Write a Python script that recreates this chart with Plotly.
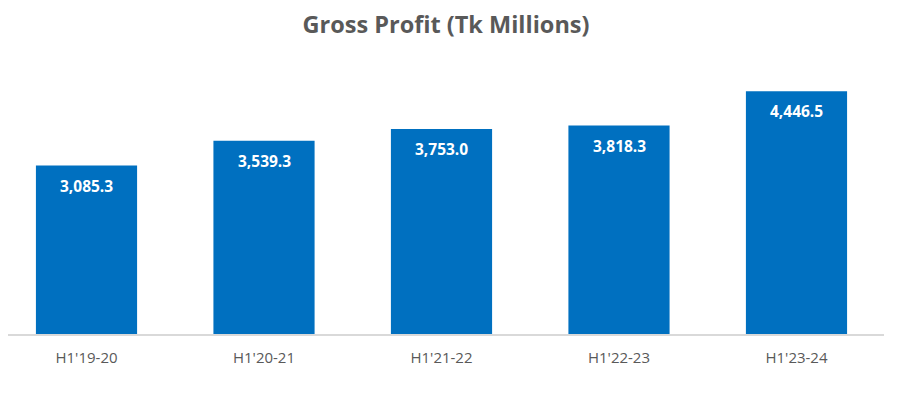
import plotly.graph_objects as go

categories = ["H1'19-20", "H1'20-21", "H1'21-22", "H1'22-23", "H1'23-24"]
values = [3085.3, 3539.3, 3753.0, 3818.3, 4446.5]
labels = [f"{v:,.1f}" for v in values]

FONT = "Open Sans, Noto Sans, sans-serif"

fig = go.Figure()
fig.add_trace(go.Bar(
    x=categories, y=values,
    marker=dict(color="#0070C0", line=dict(width=0)),
    width=0.57,
    hoverinfo="skip",
))

for c, v, t in zip(categories, values, labels):
    fig.add_annotation(x=c, y=v, text=f"<b>{t}</b>", showarrow=False,
                       yshift=-20, font=dict(family=FONT, size=15.5, color="white"))

W, H = 895, 377
fig.update_layout(
    width=W, height=H,
    margin=dict(l=0, r=19, t=53, b=51, autoexpand=False),
    paper_bgcolor="white", plot_bgcolor="white",
    title=dict(text="<b>Gross Profit (Tk Millions)</b>", x=0.5, xref="paper",
               y=1 - 17 / H, yanchor="middle",
               font=dict(family=FONT, size=23.5, color="#595959")),
    showlegend=False,
    xaxis=dict(range=[-0.4423, 4.493], showline=True, linecolor="#D9D9D9", linewidth=2,
               showgrid=False, automargin=False,
               ticks="outside", ticklen=9, tickcolor="rgba(0,0,0,0)",
               tickfont=dict(family=FONT, size=15, color="#595959")),
    yaxis=dict(range=[0, 5000], visible=False, showgrid=False, zeroline=False, automargin=False),
)

fig.write_html("out.html")
